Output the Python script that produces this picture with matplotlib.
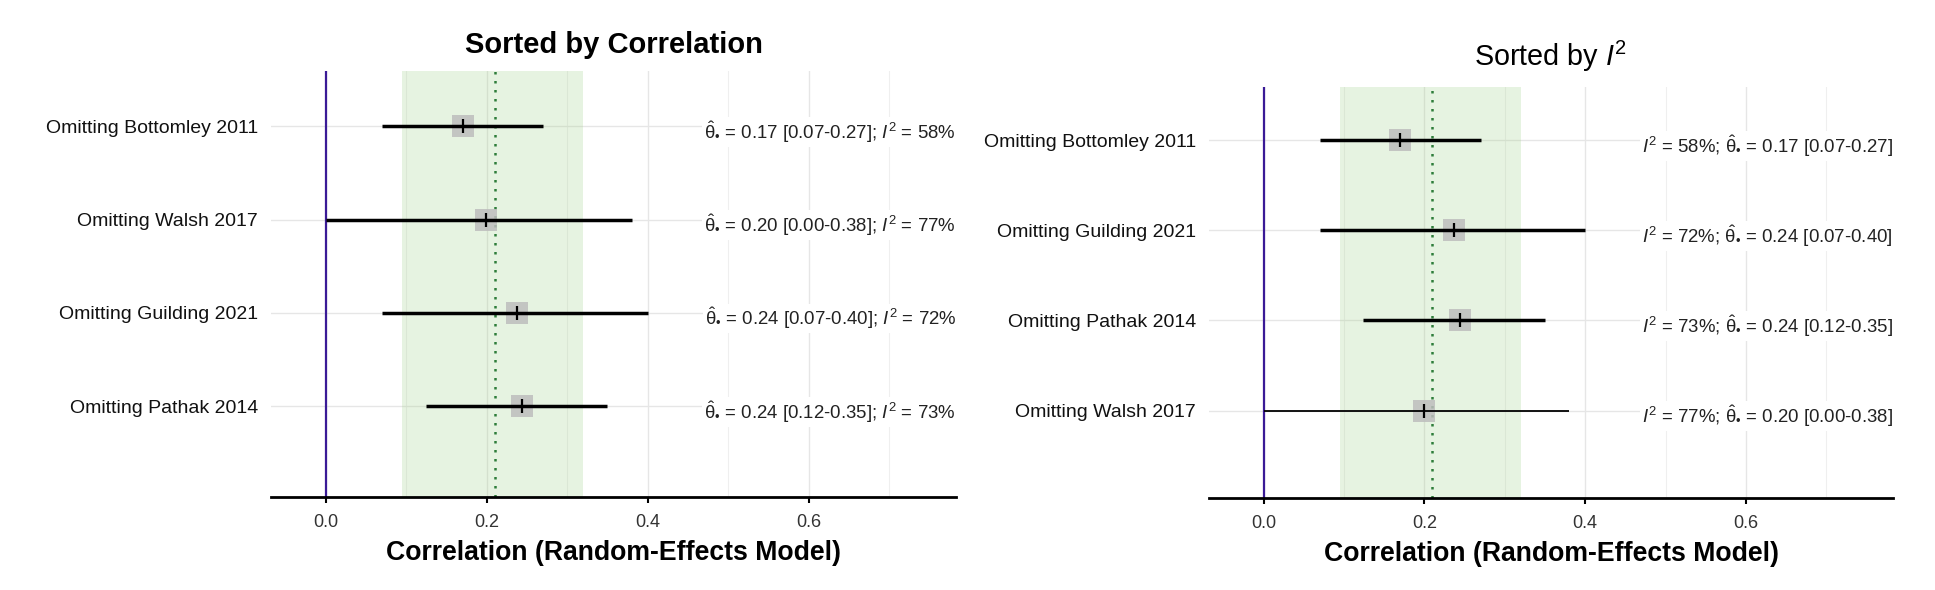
import matplotlib
matplotlib.use("Agg")
import matplotlib.pyplot as plt
import matplotlib.transforms as mtransforms
from matplotlib.ticker import MultipleLocator
import numpy as np

plt.rcParams['font.family'] = ['Liberation Sans', 'DejaVu Sans']
plt.rcParams['mathtext.fontset'] = 'custom'
plt.rcParams['mathtext.rm'] = 'Liberation Sans'
plt.rcParams['mathtext.it'] = 'Liberation Sans:italic'
plt.rcParams['mathtext.bf'] = 'Liberation Sans:bold'

# ---------------- data ----------------
studies = ["Omitting Bottomley 2011", "Omitting Walsh 2017",
           "Omitting Guilding 2021", "Omitting Pathak 2014"]
estimates = [0.17, 0.199, 0.237, 0.244]
ci_low = [0.07, 0.00, 0.07, 0.124]
ci_high = [0.27, 0.38, 0.40, 0.35]
i2_values = [58, 77, 72, 73]

pooled_estimate = 0.21
pooled_low = 0.095
pooled_high = 0.32

x_ticks = [0.0, 0.2, 0.4, 0.6]
x_tick_labels = ["0.0", "0.2", "0.4", "0.6"]

# ---------------- styles ----------------
THETA = r"$\hat{\mathrm{\theta}}_{•}$"
thin_right = {"Omitting Walsh 2017"}

fig = plt.figure(figsize=(19.35, 5.90), dpi=100)
ax1 = fig.add_axes([271 / 1935, 93 / 590, 685 / 1935, 426 / 590])
ax2 = fig.add_axes([1209 / 1935, 92 / 590, 684 / 1935, 411 / 590])


def draw(ax, order, label_fn, thin=set()):
    n = len(order)
    ys = n - np.arange(n)
    ax.set_xlim(-0.068, 0.783)
    ax.set_ylim(0.03, n + 0.59)

    ax.xaxis.set_minor_locator(MultipleLocator(0.1))
    ax.set_xticks(x_ticks)
    ax.set_xticklabels(x_tick_labels)
    ax.set_yticks(ys)
    ax.set_yticklabels([studies[i] for i in order])

    ax.set_axisbelow(True)
    ax.grid(which='major', axis='both', color='#e6e6e6', lw=1.0)
    ax.grid(which='minor', axis='x', color='#efefef', lw=0.8)

    ax.axvspan(pooled_low, pooled_high, facecolor='#9fd18a', alpha=0.25,
               lw=0, zorder=1)
    ax.axvline(pooled_estimate, color='#2e7d3a', lw=1.8, ls=(0, (1, 2.6)),
               zorder=2)
    ax.axvline(0, color='#3a1a96', lw=1.6, zorder=2)

    trans = mtransforms.blended_transform_factory(ax.transAxes, ax.transData)
    trans = trans + mtransforms.ScaledTranslation(0, -4 / 72,
                                                  fig.dpi_scale_trans)
    for y, i in zip(ys, order):
        lw = 1.3 if studies[i] in thin else 2.5
        ax.plot([estimates[i]], [y], marker='s', ms=16, color='#bdbdbd',
                alpha=0.85, mew=0, zorder=3)
        ax.hlines(y, ci_low[i], ci_high[i], color='black', lw=lw, zorder=4)
        ax.plot([estimates[i]], [y], marker='|', ms=10, mew=1.6,
                color='black', zorder=5)
        ax.text(1.0, y, label_fn(i), transform=trans, ha='right',
                va='center', fontsize=13.4, color='#222222',
                bbox=dict(fc='white', ec='none', pad=1.5), zorder=6)

    for s in ['left', 'top', 'right']:
        ax.spines[s].set_visible(False)
    ax.spines['bottom'].set_linewidth(2.0)
    ax.spines['bottom'].set_color('black')
    ax.tick_params(axis='x', which='major', length=4, width=1.5,
                   color='black', labelsize=13, labelcolor='#333333', pad=8)
    ax.tick_params(axis='x', which='minor', length=0)
    ax.tick_params(axis='y', length=0, pad=9.5, labelsize=14,
                   labelcolor='#111111')
    ax.set_xlabel("Correlation (Random-Effects Model)", fontsize=19.2,
                  fontweight='bold', labelpad=7)


def left_label(i):
    return (f"{THETA} = {estimates[i]:.2f} [{ci_low[i]:.2f}-{ci_high[i]:.2f}]; "
            f"$I^2$ = {i2_values[i]}%")


def right_label(i):
    return (f"$I^2$ = {i2_values[i]}%; {THETA} = {estimates[i]:.2f} "
            f"[{ci_low[i]:.2f}-{ci_high[i]:.2f}]")


order_corr = list(np.argsort(estimates, kind='stable'))
order_i2 = list(np.argsort(i2_values, kind='stable'))

draw(ax1, order_corr, left_label)
draw(ax2, order_i2, right_label, thin_right)

ax1.set_title("Sorted by Correlation", fontsize=21, fontweight='bold', pad=13)
ax2.set_title(r"Sorted by $I^2$", fontsize=20.7, pad=15)

fig.savefig("out.png", dpi=100, facecolor='white')
